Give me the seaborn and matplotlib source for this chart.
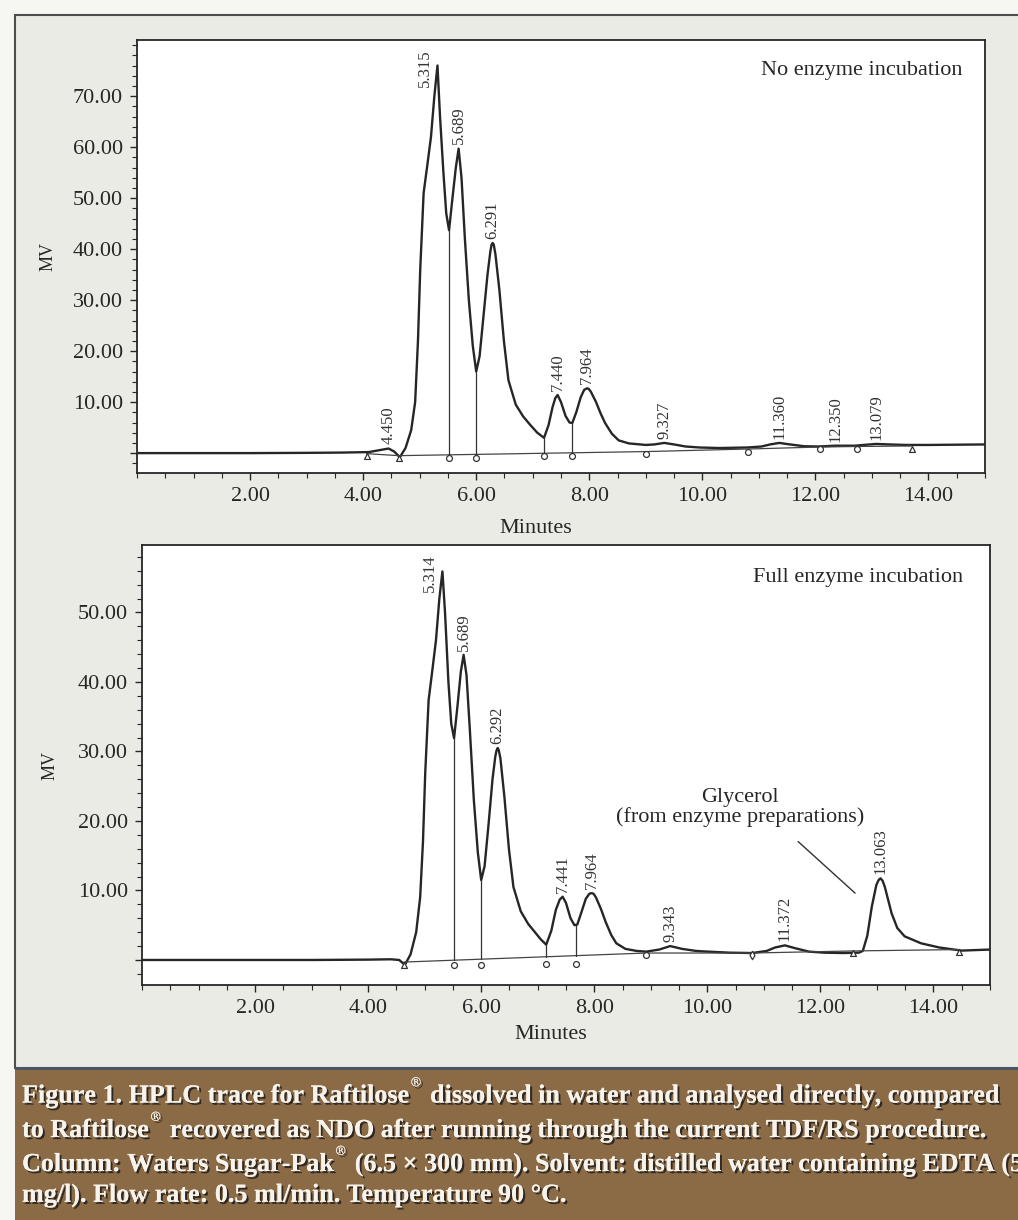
import numpy as np
import pandas as pd
import seaborn as sns
import matplotlib.pyplot as plt
import matplotlib.patheffects as pe
from matplotlib.patches import Rectangle
from matplotlib.ticker import MultipleLocator, FuncFormatter

sns.set_style("ticks")
plt.rcParams["font.family"] = ["Liberation Serif", "DejaVu Serif"]
plt.rcParams["mathtext.fontset"] = "dejavuserif"

# ---- veri: ust kromatogram (enzimsiz)
top_t = [0.0, 1.0, 2.0, 3.0, 3.6, 4.1, 4.3, 4.45, 4.55, 4.65, 4.75, 4.85, 4.92, 4.97,
         5.01, 5.07, 5.13, 5.2, 5.26, 5.315, 5.36, 5.42, 5.47, 5.52, 5.58, 5.64, 5.689,
         5.74, 5.8, 5.87, 5.94, 6.0, 6.06, 6.13, 6.2, 6.25, 6.27, 6.291, 6.31, 6.34, 6.41,
         6.49, 6.57, 6.7, 6.83, 6.95, 7.08, 7.2, 7.28, 7.35, 7.4, 7.44, 7.5, 7.58, 7.65,
         7.7, 7.77, 7.85, 7.91, 7.94, 7.964, 7.99, 8.03, 8.12, 8.2, 8.28, 8.4, 8.52, 8.7,
         9.0, 9.15, 9.327, 9.5, 9.7, 9.95, 10.3, 10.8, 11.05, 11.2, 11.36, 11.55, 11.8,
         12.05, 12.35, 12.7, 12.9, 13.079, 13.3, 13.6, 14.0, 14.5, 15.0]
top_mv = [0.0, 0.0, 0.0, 0.05, 0.1, 0.2, 0.6, 0.9, 0.3, -0.8, 1.0, 4.5, 10.0, 22.0,
          36.0, 51.0, 56.0, 62.0, 70.0, 76.0, 66.0, 55.0, 47.0, 43.7, 50.0, 56.0, 59.7,
          54.0, 42.0, 30.0, 21.0, 16.0, 19.0, 27.0, 35.0, 39.5, 40.8, 41.2, 40.9, 39.0, 32.0,
          22.0, 14.3, 9.5, 7.2, 5.6, 4.0, 3.0, 5.5, 9.0, 10.8, 11.4, 10.0, 7.3, 6.0,
          5.9, 8.0, 11.0, 12.4, 12.6, 12.7, 12.6, 12.0, 10.0, 7.8, 5.9, 3.8, 2.5, 1.9,
          1.6, 1.7, 2.0, 1.7, 1.3, 1.1, 1.0, 1.1, 1.3, 1.7, 2.0, 1.7, 1.35,
          1.3, 1.45, 1.45, 1.65, 1.8, 1.7, 1.6, 1.6, 1.65, 1.7]
top_peaks = [4.450, 5.315, 5.689, 6.291, 7.440, 7.964, 9.327, 11.360, 12.350, 13.079]
top_drops = [5.52, 6.0, 7.2, 7.7]
top_base_t = [4.06, 4.63, 9.0, 10.8, 12.09, 12.74, 13.7]
top_base_mv = [-0.1, -0.5, 0.3, 0.8, 1.2, 1.3, 1.4]
top_mark_t = [4.06, 4.63, 5.52, 6.0, 7.2, 7.7, 9.0, 10.8, 12.09, 12.74, 13.7]
top_mark_mv = [-0.5, -1.0, -1.0, -1.0, -0.6, -0.6, -0.2, 0.25, 0.8, 0.9, 0.9]
top_mark_kind = ["^", "^", "o", "o", "o", "o", "o", "o", "o", "o", "^"]

# ---- veri: alt kromatogram (tam enzim)
bot_t = [0.0, 2.0, 3.0, 4.0, 4.4, 4.55, 4.65, 4.75, 4.85, 4.92, 4.97, 5.01, 5.07, 5.13,
         5.2, 5.26, 5.314, 5.36, 5.42, 5.47, 5.52, 5.58, 5.64, 5.689, 5.74, 5.8, 5.87,
         5.94, 6.0, 6.06, 6.13, 6.2, 6.25, 6.27, 6.292, 6.31, 6.34, 6.41, 6.49, 6.57, 6.7,
         6.83, 6.95, 7.05, 7.15, 7.24, 7.32, 7.39, 7.441, 7.5, 7.58, 7.65, 7.7, 7.77, 7.85,
         7.91, 7.94, 7.964, 7.99, 8.03, 8.12, 8.2, 8.3, 8.39, 8.55, 8.75, 8.92, 9.15, 9.343,
         9.55, 9.8, 10.02, 10.4, 10.79, 11.05, 11.2, 11.372, 11.55, 11.8, 12.07, 12.4,
         12.68, 12.75, 12.83, 12.91, 12.99, 13.03, 13.063, 13.1, 13.14, 13.26, 13.36,
         13.49, 13.78, 14.1, 14.5, 15.0]
bot_mv = [0.0, 0.0, 0.0, 0.05, 0.1, 0.0, -0.7, 0.8, 4.0, 9.0, 17.0, 26.9, 37.4, 41.3,
          46.0, 52.0, 55.9, 50.0, 40.0, 34.0, 31.9, 36.5, 41.5, 43.9, 41.0, 33.0, 23.0,
          15.5, 11.5, 13.5, 19.5, 26.0, 29.3, 30.1, 30.5, 30.2, 29.0, 23.5, 16.0, 10.5, 7.0,
          5.2, 4.0, 3.0, 2.2, 4.2, 7.2, 8.7, 9.1, 8.2, 6.0, 5.0, 5.1, 6.8, 8.8,
          9.5, 9.6, 9.6, 9.5, 9.0, 7.3, 5.5, 3.6, 2.4, 1.6, 1.3, 1.2, 1.5, 2.0,
          1.6, 1.3, 1.2, 1.05, 1.0, 1.3, 1.8, 2.1, 1.7, 1.2, 1.05, 1.0,
          1.05, 1.3, 3.5, 7.7, 10.8, 11.5, 11.75, 11.4, 10.5, 6.7, 4.6,
          3.4, 2.4, 1.8, 1.35, 1.5]
bot_peaks = [5.314, 5.689, 6.292, 7.441, 7.964, 9.343, 11.372, 13.063]
bot_drops = [5.52, 6.0, 7.15, 7.68]
bot_base_t = [4.63, 8.92, 10.79, 12.58, 14.46]
bot_base_mv = [-0.3, 1.0, 1.0, 1.3, 1.5]
bot_mark_t = [4.63, 5.52, 6.0, 7.15, 7.68, 8.92, 10.79, 12.58, 14.46]
bot_mark_mv = [-0.7, -0.7, -0.7, -0.6, -0.6, 0.7, 0.7, 1.0, 1.2]
bot_mark_kind = ["^", "o", "o", "o", "o", "o", "d", "^", "^"]

reg = "$^{^{\u00ae}}$"
caption = [
    "Figure 1. HPLC trace for Raftilose" + reg + " dissolved in water and analysed directly, compared",
    "to Raftilose" + reg + " recovered as NDO after running through the current TDF/RS procedure.",
    "Column: Waters Sugar-Pak" + reg + " (6.5 \u00d7 300 mm). Solvent: distilled water containing EDTA (50",
    "mg/l). Flow rate: 0.5 ml/min. Temperature 90 \u00b0C.",
]

ink = "#262626"


def ciz(ax, t, mv, peaks, drops, base_t, base_mv, mark_t, mark_mv, mark_kind, ymin, ymax, yticks):
    df = pd.DataFrame({"Minutes": t, "MV": mv})
    sns.lineplot(data=df, x="Minutes", y="MV", ax=ax, color=ink, lw=1.7,
                 estimator=None, sort=False)
    # entegrasyon taban cizgisi
    ax.plot(base_t, base_mv, color="#444444", lw=0.9)
    for d in drops:
        ust = np.interp(d, t, mv)
        alt = np.interp(d, base_t, base_mv)
        ax.plot([d, d], [alt, ust], color="#333333", lw=0.9)
    for k in set(mark_kind):
        xs = [a for a, b in zip(mark_t, mark_kind) if b == k]
        ys = [a for a, b in zip(mark_mv, mark_kind) if b == k]
        ax.scatter(xs, ys, marker=k, s=18, facecolor="white", edgecolor="#333333",
                   linewidth=0.9, zorder=5)
    # tepe etiketleri
    for p in peaks:
        h = np.interp(p, t, mv)
        if h > 0.85 * ymax:
            ax.annotate(f"{p:.3f}", xy=(p, ymax), xytext=(-9, -7), textcoords="offset points",
                        rotation=90, ha="center", va="top", fontsize=12, color="#333333")
        else:
            ax.annotate(f"{p:.3f}", xy=(p, h), xytext=(0, 3), textcoords="offset points",
                        rotation=90, ha="center", va="bottom", fontsize=12, color="#333333")

    ax.set_xlim(0, 15)
    ax.set_ylim(ymin, ymax)
    ax.set_xticks([2, 4, 6, 8, 10, 12, 14])
    ax.xaxis.set_minor_locator(MultipleLocator(0.5))
    ax.set_yticks(yticks)
    ax.yaxis.set_minor_locator(MultipleLocator(2))
    ax.xaxis.set_major_formatter(FuncFormatter(lambda v, pos: f"{v:.2f}"))
    ax.yaxis.set_major_formatter(FuncFormatter(lambda v, pos: "" if v == 0 else f"{v:.2f}"))
    ax.tick_params(which="major", direction="out", length=5, width=1, labelsize=16,
                   colors=ink, pad=5)
    ax.tick_params(which="minor", direction="out", length=3.5, width=0.8, colors=ink)
    for s in ax.spines.values():
        s.set_visible(True)
        s.set_color(ink)
        s.set_linewidth(1.3)
    ax.set_facecolor("white")
    ax.set_xlabel("Minutes", fontsize=16, color=ink)
    ax.set_ylabel("MV", fontsize=13, color=ink)


fig = plt.figure(figsize=(10.18, 12.2), dpi=100, facecolor="#f6f6f3")

# arka plan paneli ve alt yazi kutusu
fig.patches.append(Rectangle((15 / 1018, 1 - 1068 / 1220), 1.0, (1068 - 15) / 1220,
                             transform=fig.transFigure, facecolor="#ebebe6",
                             edgecolor="#4d4d4d", lw=1.5, zorder=-3))
fig.patches.append(Rectangle((15 / 1018, 0), 1.0, 152 / 1220, transform=fig.transFigure,
                             facecolor="#8b6a46", edgecolor="none", zorder=-2))
fig.patches.append(Rectangle((15 / 1018, 1 - 1070 / 1220), 1.0, 3 / 1220,
                             transform=fig.transFigure, facecolor="#4b5566",
                             edgecolor="none", zorder=-1))

ax1 = fig.add_axes([137 / 1018, 1 - 473 / 1220, 848 / 1018, 433 / 1220])
ciz(ax1, top_t, top_mv, top_peaks, top_drops, top_base_t, top_base_mv,
    top_mark_t, top_mark_mv, top_mark_kind, -3.9, 81, [0, 10, 20, 30, 40, 50, 60, 70])
ax1.text(0.974, 0.93, "No enzyme incubation", transform=ax1.transAxes, ha="right",
         va="center", fontsize=16, color=ink)
ax1.xaxis.set_label_coords(0.47, -0.106)
ax1.yaxis.set_label_coords(-0.095, 0.5)

ax2 = fig.add_axes([142 / 1018, 1 - 985 / 1220, 848 / 1018, 440 / 1220])
ciz(ax2, bot_t, bot_mv, bot_peaks, bot_drops, bot_base_t, bot_base_mv,
    bot_mark_t, bot_mark_mv, bot_mark_kind, -3.6, 59.7, [0, 10, 20, 30, 40, 50])
ax2.text(0.968, 0.927, "Full enzyme incubation", transform=ax2.transAxes, ha="right",
         va="center", fontsize=16, color=ink)
ax2.annotate("", xy=(12.65, 9.35), xytext=(11.57, 17.3),
             arrowprops=dict(arrowstyle="-", color="#333333", lw=1))
ax2.text(10.58, 22, "Glycerol\n(from enzyme preparations)", ha="center", va="center",
         fontsize=16, color=ink, linespacing=1.0)
ax2.xaxis.set_label_coords(0.482, -0.09)
ax2.yaxis.set_label_coords(-0.098, 0.5)

# alt yazi
golge = [pe.withSimplePatchShadow(offset=(1.5, -1.5), shadow_rgbFace="#1e1e1e", alpha=0.85),
         pe.Normal()]
for i, satir in enumerate(caption):
    fig.text(22 / 1018, 1 - (1092 + i * 34.5) / 1220, satir, ha="left", va="center",
             fontsize=18.8, fontweight="bold", color="#f7f2ea", path_effects=golge)

fig.savefig("out.png", dpi=100, facecolor=fig.get_facecolor())
